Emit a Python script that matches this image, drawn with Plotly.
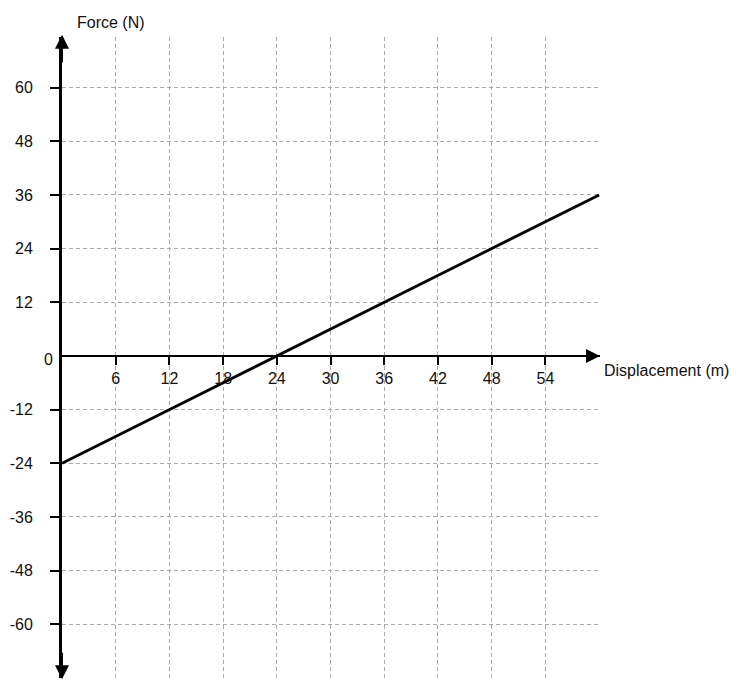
import plotly.graph_objects as go

# the force line
disp = [0, 60]
force = [-24, 36]

x_ticks = [6, 12, 18, 24, 30, 36, 42, 48, 54]
y_ticks = [-60, -48, -36, -24, -12, 12, 24, 36, 48, 60]
# plain hyphen minus, like the original
y_labels = [str(v) for v in y_ticks]

x_rng = [0, 60.1]
y_rng = [-72, 71.3]

font = dict(family="Liberation Sans, Arial, sans-serif", size=16, color="#111")
grid = dict(showgrid=True, gridcolor="#ababab", griddash="4px,3px", gridwidth=1)

fig = go.Figure()
fig.add_trace(go.Scatter(x=disp, y=force, mode="lines",
                         line=dict(color="black", width=2.8),
                         hoverinfo="skip", showlegend=False))

# x axis sits on y=0
xpos = (0 - y_rng[0]) / (y_rng[1] - y_rng[0])

fig.update_layout(
    width=739, height=685,
    margin=dict(l=62, r=139, t=37, b=7),
    paper_bgcolor="white", plot_bgcolor="white",
    font=font,
    xaxis=dict(range=x_rng, tickvals=x_ticks, **grid,
               zeroline=False, showline=True, linecolor="black", linewidth=2,
               anchor="free", position=xpos, ticks="outside", ticklen=8,
               tickwidth=2, tickcolor="black", tickfont=font),
    yaxis=dict(range=y_rng, tickvals=y_ticks, ticktext=y_labels, **grid,
               zeroline=False, showline=True, linecolor="black", linewidth=3,
               ticks="outside", ticklen=9, tickwidth=2, tickcolor="black",
               tickfont=font, ticklabelstandoff=14),
)

arrow = dict(text="", showarrow=True, xref="x", yref="y", axref="x", ayref="y",
             arrowhead=2, arrowsize=1.4, arrowwidth=2, arrowcolor="black")
fig.add_annotation(x=0, y=y_rng[1] + 0.5, ax=0, ay=y_rng[1] - 6, **arrow)
fig.add_annotation(x=0, y=y_rng[0] - 0.3, ax=0, ay=y_rng[0] + 6, **arrow)
fig.add_annotation(x=x_rng[1], y=0, ax=x_rng[1] - 4, ay=0, **arrow)

fig.add_annotation(text="0", x=0, y=0, xref="x", yref="y", showarrow=False,
                   xanchor="right", yanchor="middle", xshift=-7, yshift=-4,
                   font=font)
fig.add_annotation(text="Force (N)", x=(75 - 62) / 538, y=1 + (37 - 22) / 641,
                   xref="paper", yref="paper", xanchor="left", yanchor="middle",
                   showarrow=False, font=font)
fig.add_annotation(text="Displacement (m)", x=x_rng[1], y=0, xref="x", yref="y",
                   showarrow=False, xanchor="left", yanchor="middle",
                   xshift=2, yshift=-15, font=font)

fig.write_html("out.html", config={"displayModeBar": False},
               post_script="document.body.style.margin='0';")
